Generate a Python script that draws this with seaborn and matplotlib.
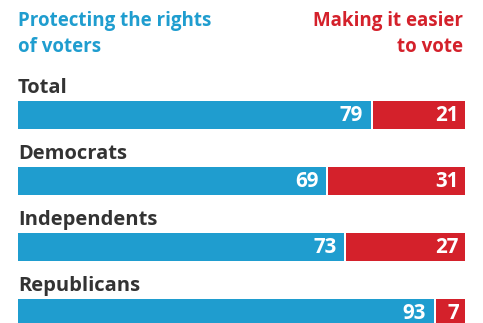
import matplotlib
matplotlib.use("Agg")
import matplotlib.pyplot as plt
import seaborn as sns
import numpy as np

groups = ["Total", "Democrats", "Independents", "Republicans"]
protect_rights = [79, 69, 73, 93]
easier_to_vote = [21, 31, 27, 7]
left_title = "Protecting the rights\nof voters"
right_title = "Making it easier\nto vote"

BLUE = "#1f9dcf"
RED = "#d4212b"
DARK = "#333333"
FONT = ["Open Sans", "DejaVu Sans"]

sns.set_theme(style="white")
plt.rcParams["font.family"] = FONT

W, H = 483, 323
fig = plt.figure(figsize=(W / 100, H / 100), dpi=100)
left_px, right_px = 18, 465
ax = fig.add_axes([left_px / W, 0, (right_px - left_px) / W, 1])

row_px = 66.0
bar_px = 28.0
first_center_px = 115.0
bar_h = bar_px / row_px

sns.barplot(x=protect_rights, y=groups, orient="h", color=BLUE, saturation=1,
            width=bar_h, ax=ax, linewidth=0)

# red segments start just past the blue ones, leaving a thin white gap
gap = 2.0 / (right_px - left_px) * 100
pos = np.arange(len(groups))
blue_arr = np.array(protect_rights, dtype=float)
red_arr = np.array(easier_to_vote, dtype=float)
ax.barh(pos, red_arr - gap, left=blue_arr + gap, height=bar_h, color=RED, linewidth=0)

ax.set_xlim(0, 100)
ax.set_ylim((H - first_center_px) / row_px, -first_center_px / row_px)
ax.axis("off")

label_off = (93 - first_center_px) / row_px
num_off = 5.8 / row_px
pad_blue = 8 / (right_px - left_px) * 100
pad_red = 6 / (right_px - left_px) * 100
for i, g in enumerate(groups):
    ax.text(0, i + label_off, g, ha="left", va="baseline", fontsize=14.5,
            fontweight="bold", color=DARK)
    ax.text(protect_rights[i] - pad_blue, i + num_off, str(protect_rights[i]),
            ha="right", va="baseline", fontsize=14.8, fontweight="bold",
            color="white")
    ax.text(100 - pad_red, i + num_off, str(easier_to_vote[i]), ha="right",
            va="baseline", fontsize=14.8, fontweight="bold", color="white")

for x_px, txt, col, ha in [(left_px, left_title, BLUE, "left"),
                           (463, right_title, RED, "right")]:
    line1, line2 = txt.split("\n")
    fig.text(x_px / W, 1 - 26 / H, line1, ha=ha, va="baseline", fontsize=13.5,
             fontweight="bold", color=col)
    fig.text(x_px / W, 1 - 52.5 / H, line2, ha=ha, va="baseline", fontsize=13.5,
             fontweight="bold", color=col)

fig.savefig("out.png", dpi=100)
